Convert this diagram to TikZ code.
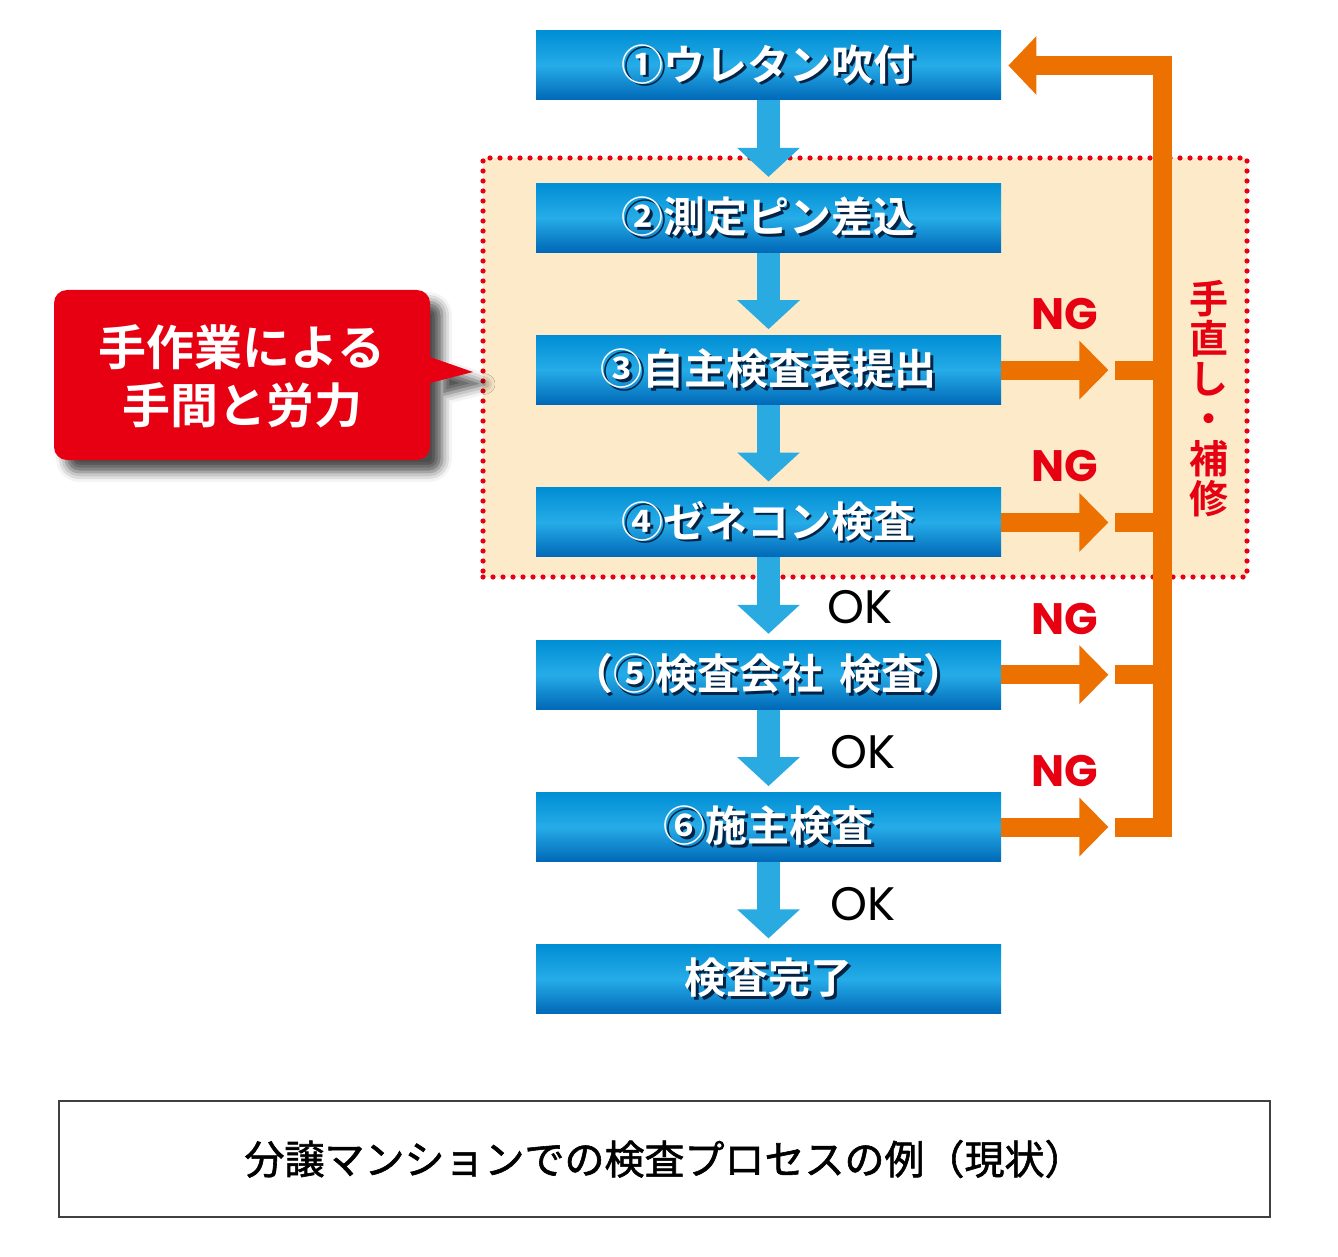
\documentclass[tikz,border=0pt]{standalone}
\usepackage{fontspec}
\setmainfont{Noto Sans CJK JP}[BoldFont={Noto Sans CJK JP Bold}]
\newfontfamily\okfont{Poppins}[BoldFont={Poppins Bold}]
\newfontfamily\capfont{Noto Sans CJK JP}[FakeBold=1.5]
\usetikzlibrary{positioning,arrows.meta,shadows.blur}

\definecolor{flowblue}{RGB}{41,171,226}
\definecolor{boxtop}{RGB}{0,142,212}
\definecolor{boxmid}{RGB}{38,172,232}
\definecolor{boxbot}{RGB}{0,104,183}
\definecolor{ngorange}{RGB}{237,113,0}
\definecolor{ngred}{RGB}{230,0,18}
\definecolor{beige}{RGB}{253,234,200}
\definecolor{txtshadow}{RGB}{0,35,70}

\newcommand\shtext[1]{\makebox[0pt][l]{\hspace{1.4pt}\raisebox{-1.4pt}{\color{txtshadow}#1}}#1}

\begin{document}
\begin{tikzpicture}[x=0.5pt,y=-0.5pt,
  node distance=41.25pt,
  stepbox/.style={minimum width=232.5pt,minimum height=34.5pt,inner sep=0pt,
    top color=boxtop,bottom color=boxbot,middle color=boxmid,
    text=white,font=\bfseries\fontsize{21pt}{21pt}\selectfont},
  flow/.style={draw=flowblue,line width=11.5pt,-{Triangle[length=14.5pt,width=30.5pt]},shorten >=3pt},
  ngflow/.style={draw=ngorange,line width=9.5pt,-{Triangle[length=14.5pt,width=28.5pt]}},
  redo/.style={draw=ngorange,line width=9.5pt,line join=miter},
  nglabel/.style={text=ngred,font=\okfont\bfseries\fontsize{22pt}{22pt}\selectfont,inner sep=0pt},
  oklabel/.style={font=\okfont\fontsize{23.5pt}{23.5pt}\selectfont,inner sep=0pt},
  area/.style={fill=beige,draw=ngred,line width=2.6pt,line cap=round,dash pattern=on 0pt off 5pt,inner sep=0pt},
  capbox/.style={draw=black!75,line width=0.6pt,minimum width=605.5pt,minimum height=58pt,font=\capfont\fontsize{20pt}{20pt}\selectfont}]

\useasboundingbox (0,0) rectangle (1338,1257);

% manual work area
\node[area,minimum width=382pt,minimum height=209.5pt] (zone) at (865,367.5) {};

% steps
\node[stepbox] (b1) at (768.5,65.5) {\shtext{①ウレタン吹付}};
\node[stepbox,below=of b1] (b2) {\shtext{②測定ピン差込}};
\node[stepbox,below=of b2] (b3) {\shtext{③自主検査表提出}};
\node[stepbox,below=of b3] (b4) {\shtext{④ゼネコン検査}};
\node[stepbox,below=of b4] (b5) {\shtext{（⑤検査会社\hspace{0.4em}検査）}};
\node[stepbox,below=of b5] (b6) {\shtext{⑥施主検査}};
\node[stepbox,below=of b6] (b7) {\shtext{検査完了}};

\foreach \a/\b in {b1/b2,b2/b3,b3/b4,b4/b5,b5/b6,b6/b7}
  \draw[flow] (\a) -- (\b);

\node[oklabel] (ok5) at ([xshift=45.75pt,yshift=16.5pt]b5.north) {OK};
\node[oklabel] (ok6) at ([xshift=47.5pt,yshift=20.25pt]b6.north) {OK};
\node[oklabel] (ok7) at ([xshift=47.5pt,yshift=20pt]b7.north) {OK};

% NG branches
\foreach \i in {3,4,5,6}{
  \coordinate[right=53.5pt of b\i.east] (n\i);
  \coordinate[right=57pt of b\i.east] (s\i);
  \coordinate[right=80.5pt of b\i.east] (j\i);
  \draw[ngflow] (b\i.east) -- (n\i);
  \draw[redo] (s\i) -- (j\i);
  \node[nglabel] (ng\i) at ([xshift=-22pt,yshift=28pt]n\i) {NG};
}
\draw[redo,-{Triangle[length=14pt,width=28.5pt]},shorten >=3.5pt]
  (s6) -- (j6) -- (j6 |- b1.east) -- (b1.east);
\node[text=ngred,font=\bfseries\fontsize{19.5pt}{20pt}\selectfont,align=center,inner sep=0pt]
  (fix) at (1209,399) {手\\直\\し\\・\\補\\修};

% callout
\fill[ngred,blur shadow={shadow xshift=6pt,shadow yshift=-6pt,shadow blur radius=5pt,shadow opacity=70}]
  [rounded corners=6.5pt] (54,290) rectangle (430,460)
  [sharp corners] (430,357) -- (473,372) -- (430,383) -- cycle;
\node[font=\bfseries\fontsize{24pt}{29pt}\selectfont,text=white,align=center] (calltxt) at (242,376) {手作業による\\手間と労力};

% caption
\node[capbox] (cap) at (664.5,1159) {分譲マンションでの検査プロセスの例（現状）};
\end{tikzpicture}
\end{document}
